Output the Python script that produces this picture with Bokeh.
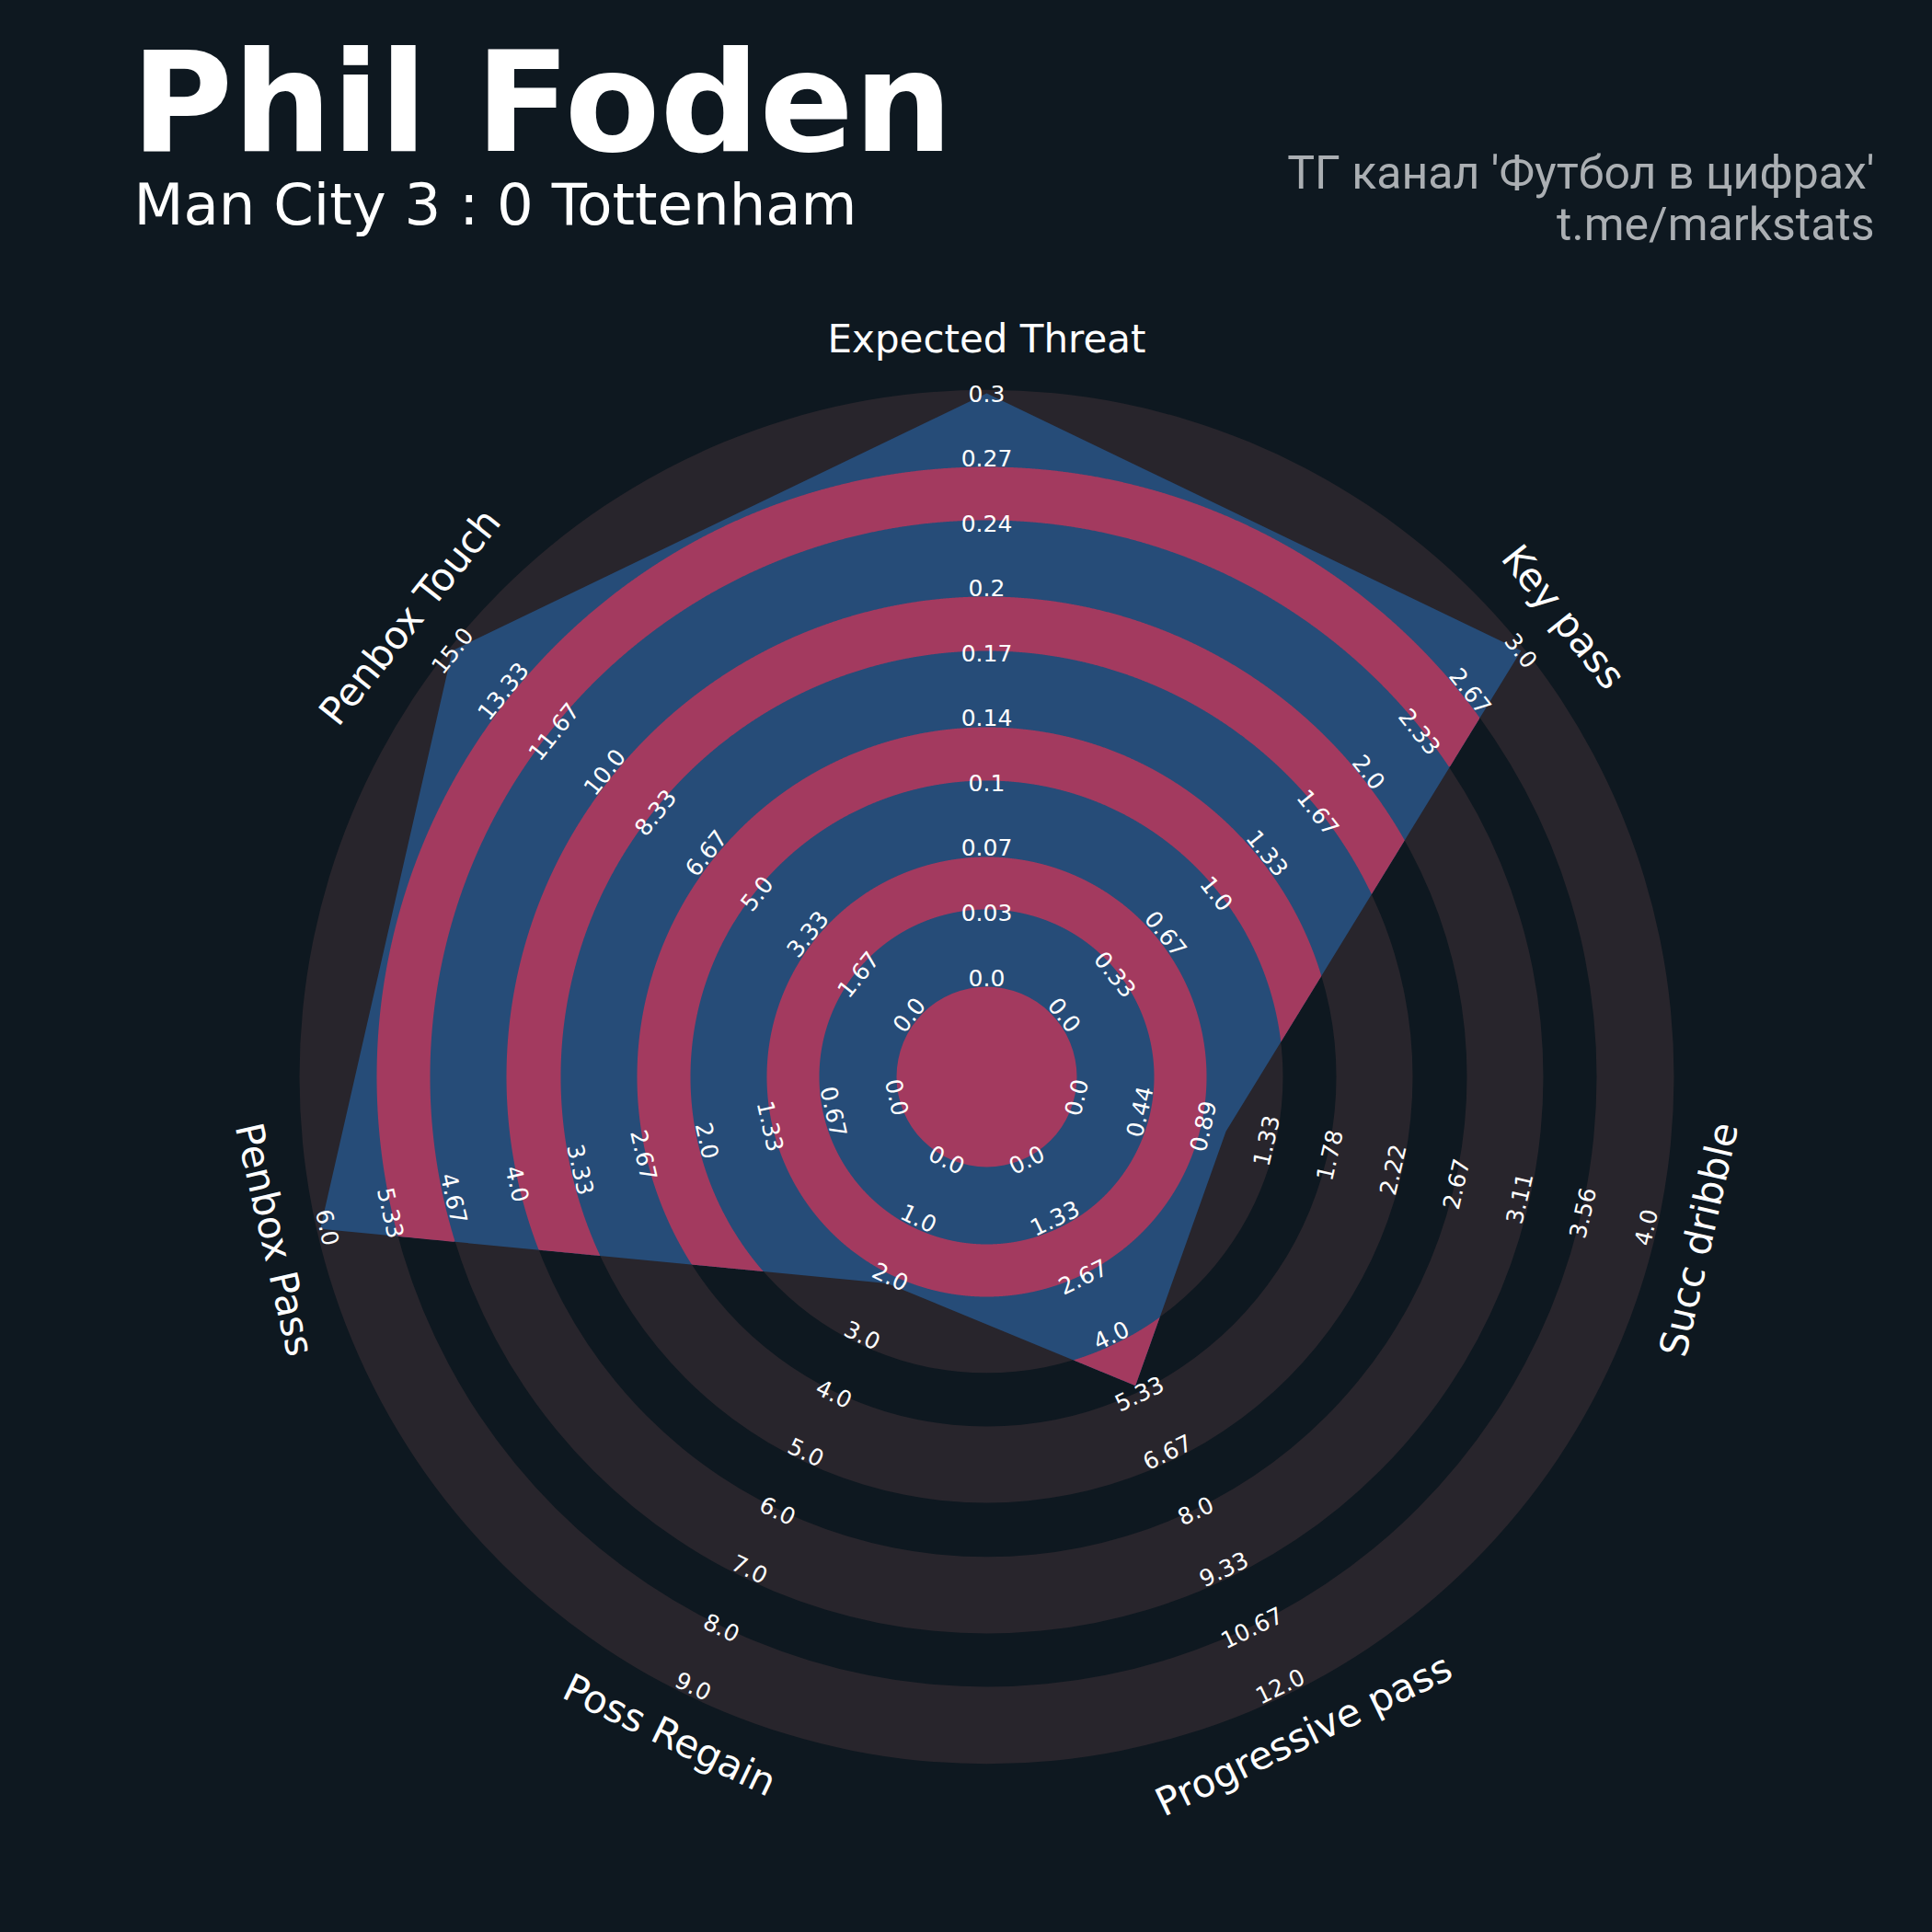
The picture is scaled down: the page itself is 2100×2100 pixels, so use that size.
import numpy as np
from bokeh.plotting import figure
from bokeh.models import Range1d
from bokeh.core.properties import value
from bokeh.embed import file_html
from bokeh.resources import INLINE

# ---------------- data ----------------
player = "Phil Foden"
match = "Man City 3 : 0 Tottenham"
credit = ["ТГ канал 'Футбол в цифрах'", "t.me/markstats"]

params = ["Expected Threat", "Key pass", "Succ dribble", "Progressive pass",
          "Poss Regain", "Penbox Pass", "Penbox Touch"]
range_low = [0, 0, 0, 0, 0, 0, 0]
range_high = [0.3, 3, 4, 12, 9, 6, 15]
values = [0.3, 3, 1, 5, 2, 6, 15]

ring_labels = [
    ["0.0", "0.03", "0.07", "0.1", "0.14", "0.17", "0.2", "0.24", "0.27", "0.3"],
    ["0.0", "0.33", "0.67", "1.0", "1.33", "1.67", "2.0", "2.33", "2.67", "3.0"],
    ["0.0", "0.44", "0.89", "1.33", "1.78", "2.22", "2.67", "3.11", "3.56", "4.0"],
    ["0.0", "1.33", "2.67", "4.0", "5.33", "6.67", "8.0", "9.33", "10.67", "12.0"],
    ["0.0", "1.0", "2.0", "3.0", "4.0", "5.0", "6.0", "7.0", "8.0", "9.0"],
    ["0.0", "0.67", "1.33", "2.0", "2.67", "3.33", "4.0", "4.67", "5.33", "6.0"],
    ["0.0", "1.67", "3.33", "5.0", "6.67", "8.33", "10.0", "11.67", "13.33", "15.0"],
]

# ---------------- style ----------------
BG = "#0e1820"
BLUE = "#264c78"
PINK = "#a33a5f"
GREY = "#28252c"
CREDIT = "#abafb3"

W = H = 2100
p = figure(width=W, height=H, x_range=Range1d(0, W), y_range=Range1d(0, H),
           x_axis_type=None, y_axis_type=None, output_backend="svg",
           toolbar_location=None, min_border=0, background_fill_color=BG,
           border_fill_color=BG, outline_line_color=None)
p.grid.visible = False

CX, CY = 1072.0, 930.0
R_CENTER = 98
R0, R1 = 108.0, 743.0          # value scale (min -> R0, max -> R1)
LAB_EPS = 4.0                  # label offset along text "up"
R_PARAM = 798.0
PAR_EPS = 4.0
grey_rings = [(98, 182), (239, 322), (380, 463), (522, 605), (663, 747)]
pink_rings = [(182, 239), (322, 380), (463, 522), (605, 663)]

n = len(params)
theta = np.pi / 2 - np.arange(n) * 2 * np.pi / n


def scale(v, lo, hi):
    return R0 + (v - lo) / (hi - lo) * (R1 - R0)


vr = np.array([scale(v, lo, hi) for v, lo, hi in zip(values, range_low, range_high)])
vx = vr * np.cos(theta)
vy = vr * np.sin(theta)

# outer grey rings
p.annulus(x=[CX] * len(grey_rings), y=[CY] * len(grey_rings),
          inner_radius=[a for a, b in grey_rings], outer_radius=[b for a, b in grey_rings],
          fill_color=GREY, line_color=None)

# radar polygon
p.patch(list(CX + vx), list(CY + vy), fill_color=BLUE, line_color=None)

# center circle
p.circle(x=[CX], y=[CY], radius=R_CENTER, fill_color=PINK, line_color=None)

# polygon radius as a function of angle (sampled along each edge)
m = 500
T_list, RHO_list = [], []
for k in range(n):
    t0 = theta[k]
    t1 = theta[k] - 2 * np.pi / n
    s = np.linspace(0, 1, m, endpoint=False)
    tt = t0 + (t1 - t0) * s
    P1 = np.array([vx[k], vy[k]])
    P2 = np.array([vx[(k + 1) % n], vy[(k + 1) % n]])
    E = P2 - P1
    dx, dy = np.cos(tt), np.sin(tt)
    r = (P1[0] * E[1] - P1[1] * E[0]) / (dx * E[1] - dy * E[0])
    T_list.append(tt)
    RHO_list.append(r)
T = np.concatenate(T_list)
RHO = np.concatenate(RHO_list)

xs, ys = [], []
for a, b in pink_rings:
    rout = np.minimum(b, RHO)
    inside = RHO > a
    if inside.all():
        ox = CX + rout * np.cos(T)
        oy = CY + rout * np.sin(T)
        hx = CX + a * np.cos(T)
        hy = CY + a * np.sin(T)
        xs.append([[list(ox), list(hx)]])
        ys.append([[list(oy), list(hy)]])
    else:
        i0 = int(np.argmin(inside))
        idx = np.roll(np.arange(len(T)), -i0)
        ins = inside[idx]
        j = 0
        while j < len(idx):
            if ins[j]:
                st = j
                while j < len(idx) and ins[j]:
                    j += 1
                run = idx[st:j]
                tt = T[run]
                ro = rout[run]
                px = np.concatenate([CX + ro * np.cos(tt), CX + a * np.cos(tt[::-1])])
                py = np.concatenate([CY + ro * np.sin(tt), CY + a * np.sin(tt[::-1])])
                xs.append([[list(px)]])
                ys.append([[list(py)]])
            else:
                j += 1
p.multi_polygons(xs=xs, ys=ys, fill_color=PINK, line_color=None)


def text_rot(th):
    d = np.degrees(th) - 90
    d = (d + 180) % 360 - 180
    if d < -90:
        d += 180
    elif d > 90:
        d -= 180
    return np.radians(d)


# ring labels
lx, ly, lt, la = [], [], [], []
for i in range(n):
    rot = text_rot(theta[i])
    ux, uy = -np.sin(rot), np.cos(rot)
    labs = ring_labels[i]
    for k, lab in enumerate(labs):
        r = (R0 - LAB_EPS) + k * (R1 - R0) / (len(labs) - 1)
        lx.append(CX + r * np.cos(theta[i]) + LAB_EPS * ux)
        ly.append(CY + r * np.sin(theta[i]) + LAB_EPS * uy)
        lt.append(lab)
        la.append(rot)
p.text(x=lx, y=ly, text=lt, angle=la, text_align="center", text_baseline="middle",
       text_font=value("DejaVu Sans"), text_font_size=value("25px"), text_color="white")

# parameter labels
px_, py_, pa_ = [], [], []
for i in range(n):
    rot = text_rot(theta[i])
    ux, uy = -np.sin(rot), np.cos(rot)
    px_.append(CX + R_PARAM * np.cos(theta[i]) + PAR_EPS * ux)
    py_.append(CY + R_PARAM * np.sin(theta[i]) + PAR_EPS * uy)
    pa_.append(rot)
p.text(x=px_, y=py_, text=params, angle=pa_, text_align="center", text_baseline="middle",
       text_font=value("DejaVu Sans"), text_font_size=value("42px"), text_color="white")

# titles
p.text(x=[142], y=[H - 111], text=[player], text_align="left", text_baseline="alphabetic",
       text_font=value("DejaVu Sans"), text_font_style="bold", text_font_size=value("151px"),
       text_color="white")
p.text(x=[145], y=[H - 222], text=[match], text_align="left", text_baseline="alphabetic",
       text_font=value("DejaVu Sans"), text_font_size=value("62.5px"), text_color="white")
p.text(x=[2037, 2037], y=[H - 187, H - 243], text=credit, text_align="right",
       text_baseline="alphabetic", text_font=value("Roboto"), text_font_size=value("50px"),
       text_color=CREDIT)

html = file_html(p, INLINE).replace("<body>", '<body style="background-color:%s;">' % BG)
open("out.html", "w").write(html)
